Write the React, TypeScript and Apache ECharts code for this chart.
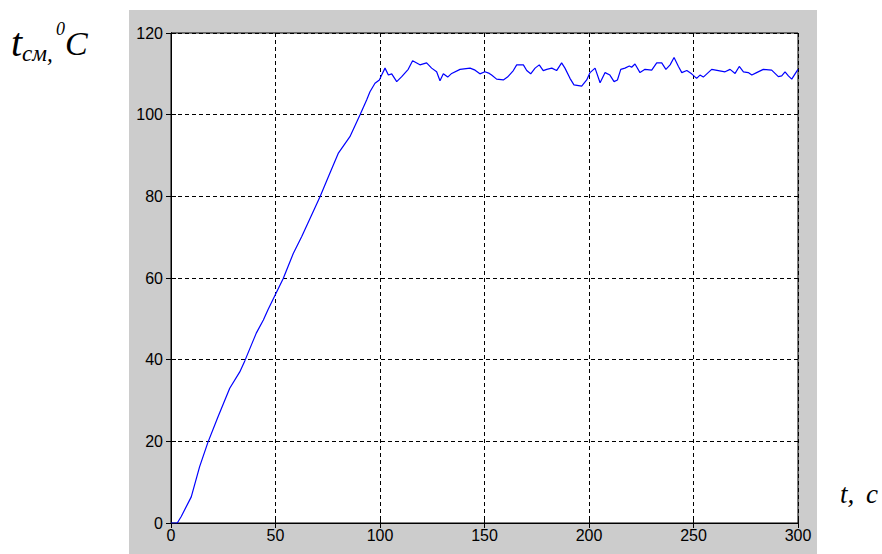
import React, { useEffect, useRef } from "react";
import * as echarts from "echarts";

const timeS: number[] = [
  0, 3, 4.9, 9.7, 13.7, 17.7, 22.5, 28.1, 32.9, 35.3,
  40.8, 44.2, 46.4, 53.7, 58.5, 62.5, 71.3, 75.3, 80, 85.6,
  90.4, 93.6, 95.2, 97.6, 99.7, 100.8, 102.4, 104, 105.6, 108,
  110.4, 113.5, 115.6, 119.1, 122.3, 124.7, 127.1, 128.7, 130.3, 132.4,
  134.3, 138.3, 143.1, 145.5, 147.8, 150.2, 152.3, 153.4, 155.8, 159,
  161, 163.8, 165.4, 168.6, 170.2, 172.1, 174.2, 176.2, 178.1, 179.8,
  182.2, 184.5, 186.9, 188.5, 190.9, 192.8, 196.5, 198.9, 200.5, 202.9,
  205.3, 207.7, 210, 212, 213.6, 215.2, 217.2, 219.3, 220.4, 222,
  224.4, 226.8, 230, 232.4, 234.8, 236.8, 238.8, 240.7, 242.8, 244.4,
  246.8, 249.1, 251.5, 253.1, 254.7, 258.7, 261.9, 265.1, 267.5, 269.9,
  271.9, 273.9, 276.2, 277.9, 280.2, 283.4, 287.4, 290.6, 292.2, 293.8,
  295.4, 297, 298.6, 300,
];

const tempC: number[] = [
  0, 0, 1.6, 6.4, 13.8, 19.8, 26, 33, 37, 39.7,
  46.5, 49.7, 52.2, 59.9, 66, 70.1, 79.9, 84.8, 90.5, 94.6,
  99.9, 103.6, 105.6, 107.7, 108.5, 109.7, 111.4, 109.7, 110, 108.1,
  109.3, 111.1, 113.2, 112.2, 112.7, 111.4, 110.5, 108.3, 110, 109.2,
  110.1, 111.1, 111.4, 110.9, 110, 110.5, 110.1, 109.7, 108.7, 108.5,
  109.2, 110.8, 112.2, 112.2, 110.8, 110, 111.4, 112.2, 110.8, 111.1,
  111.4, 110.8, 112.7, 111.4, 108.9, 107.3, 107, 108.5, 110.3, 111.4,
  107.8, 110.3, 109.7, 108.1, 108.5, 111.1, 111.4, 111.9, 111.6, 112.4,
  110.3, 111.1, 110.9, 112.7, 112.7, 111.1, 112.2, 114, 111.8, 110.3,
  110.8, 110, 108.9, 109.7, 109.2, 111.1, 110.8, 110.5, 111.1, 110.1,
  111.8, 110.5, 110.3, 109.7, 110.3, 111.1, 110.9, 109.3, 109.5, 110.5,
  109.5, 108.7, 110, 111.1,
];

const xTicks = { min: 0, max: 300, interval: 50 };
const yTicks = { min: 0, max: 120, interval: 20 };

const yTitleMain = "t";
const yTitleSub = "см,";
const yTitleSup = "0";
const yTitleUnit = "C";
const xTitleVar = "t,";
const xTitleUnit = "с";

export default function App() {
  const ref = useRef<HTMLDivElement>(null);

  useEffect(() => {
    if (!ref.current) return;
    const chart = echarts.init(ref.current, null, { renderer: "svg" });
    const data = timeS.map((t, i) => [t, tempC[i]]);
    const labelFont = {
      fontFamily: "Liberation Sans, Arial, sans-serif",
      fontSize: 16,
      color: "#000",
    };
    const serif = "Liberation Serif, Times New Roman, serif";
    const dash = { type: [4, 3] as any, color: "#000", width: 1 };

    chart.setOption({
      animation: false,
      backgroundColor: "#fff",
      graphic: [
        {
          type: "rect",
          z: -1,
          shape: { x: 129, y: 10, width: 688, height: 544 },
          style: { fill: "#cccccc" },
        },
        {
          type: "text",
          x: 11,
          y: 42,
          style: { text: yTitleMain, font: `italic 40px ${serif}`, fill: "#000", verticalAlign: "middle" },
        },
        {
          type: "text",
          x: 22,
          y: 53,
          style: { text: yTitleSub, font: `italic 23px ${serif}`, fill: "#000", verticalAlign: "middle" },
        },
        {
          type: "text",
          x: 56,
          y: 29,
          style: { text: yTitleSup, font: `italic 18px ${serif}`, fill: "#000", verticalAlign: "middle" },
        },
        {
          type: "text",
          x: 65,
          y: 43,
          style: { text: yTitleUnit, font: `italic 34px ${serif}`, fill: "#000", verticalAlign: "middle" },
        },
        {
          type: "text",
          x: 840,
          y: 494,
          style: { text: xTitleVar, font: `italic 27px ${serif}`, fill: "#000", verticalAlign: "middle" },
        },
        {
          type: "text",
          x: 866,
          y: 494,
          style: { text: xTitleUnit, font: `italic 27px ${serif}`, fill: "#000", verticalAlign: "middle" },
        },
      ],
      grid: {
        left: 171,
        right: 84,
        top: 33,
        bottom: 31,
        show: true,
        backgroundColor: "#ffffff",
        borderColor: "#000",
        borderWidth: 1,
      },
      xAxis: [
        {
          type: "value",
          ...xTicks,
          axisLine: { show: true, lineStyle: { color: "#000", width: 1 } },
          axisTick: { show: true, inside: true, length: 5, lineStyle: { color: "#000" } },
          axisLabel: { ...labelFont, margin: 4 },
          splitLine: { show: true, lineStyle: dash },
        },
        {
          type: "value",
          position: "top",
          ...xTicks,
          axisLine: { show: true, lineStyle: { color: "#000", width: 1 } },
          axisTick: { show: true, inside: true, length: 5, lineStyle: { color: "#000" } },
          axisLabel: { show: false },
          splitLine: { show: false },
        },
      ],
      yAxis: [
        {
          type: "value",
          ...yTicks,
          axisLine: { show: true, lineStyle: { color: "#000", width: 1 } },
          axisTick: { show: true, inside: true, length: 5, lineStyle: { color: "#000" } },
          axisLabel: { ...labelFont, margin: 8 },
          splitLine: { show: true, lineStyle: dash },
        },
        {
          type: "value",
          position: "right",
          ...yTicks,
          axisLine: { show: true, lineStyle: { color: "#000", width: 1 } },
          axisTick: { show: true, inside: true, length: 5, lineStyle: { color: "#000" } },
          axisLabel: { show: false },
          splitLine: { show: false },
        },
      ],
      series: [
        {
          type: "line",
          xAxisIndex: 0,
          yAxisIndex: 0,
          data,
          showSymbol: false,
          symbol: "none",
          lineStyle: { color: "#0000ff", width: 1.2 },
          z: 5,
        },
      ],
    });
    return () => chart.dispose();
  }, []);

  return (
    <div
      ref={ref}
      style={{ position: "absolute", left: 0, top: 0, width: 882, height: 554 }}
    />
  );
}
